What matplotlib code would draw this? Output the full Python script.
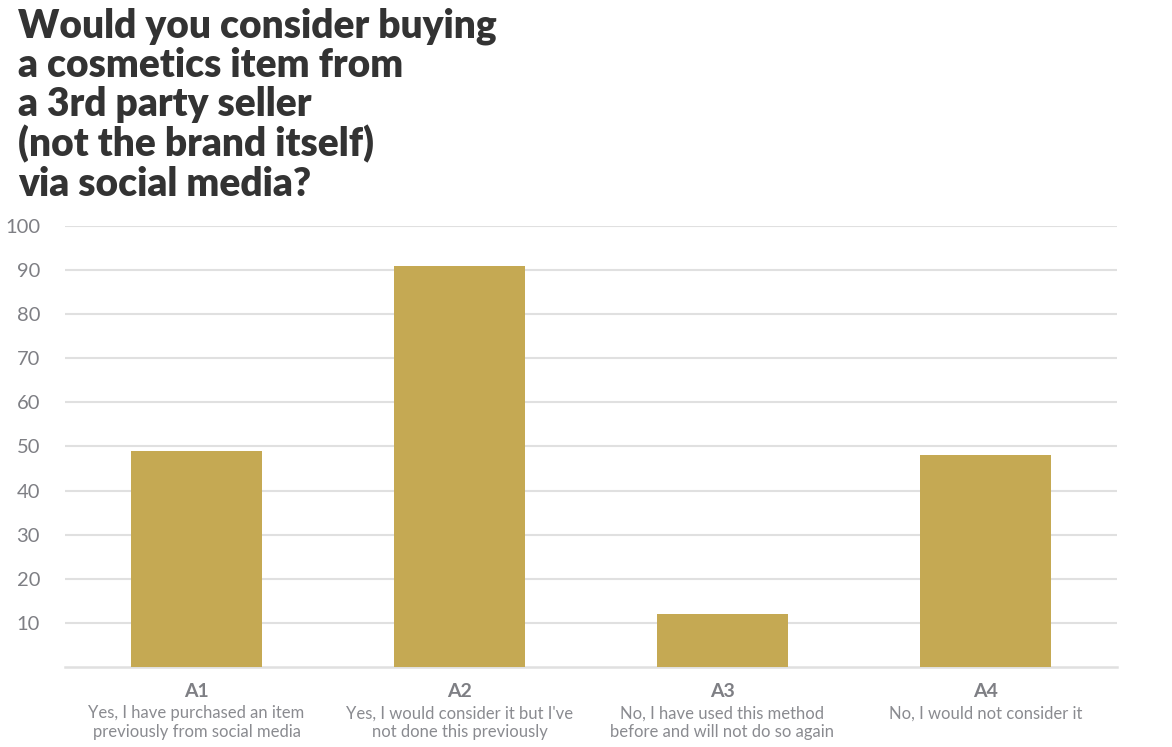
import matplotlib.pyplot as plt
import numpy as np

plt.rcParams['font.family'] = ['Lato', 'DejaVu Sans']

# ======== data ========
codes = ['A1', 'A2', 'A3', 'A4']
answers = ['Yes, I have purchased an item\npreviously from social media',
           "Yes, I would consider it but I've\nnot done this previously",
           'No, I have used this method\nbefore and will not do so again',
           'No, I would not consider it']
values = [49, 91, 12, 48]
yticks = [10, 20, 30, 40, 50, 60, 70, 80, 90, 100]

title = ('Would you consider buying\na cosmetics item from\na 3rd party seller\n'
         '(not the brand itself)\nvia social media?')

bar_color = '#C5A953'
grid_color = '#E0E0E0'
tick_color = '#7E7F84'
title_color = '#333333'

fig = plt.figure(figsize=(11.72, 7.47), dpi=100)
ax = fig.add_axes([0.0555, 0.1071, 0.8975, 0.5904])

x = np.arange(len(codes))
ax.bar(x, values, width=0.5, color=bar_color, zorder=3)

ax.set_xlim(-0.5, 3.5)
ax.set_ylim(0, 100)
ax.set_yticks(yticks)
ax.set_yticklabels([str(t) for t in yticks], fontsize=14.5, color=tick_color)
ax.tick_params(axis='y', length=0, pad=18)
ax.set_xticks([])
ax.grid(axis='y', color=grid_color, linewidth=1.5, zorder=0)
ax.axhline(0, color=grid_color, linewidth=1.8, zorder=1, clip_on=False)
for s in ax.spines.values():
    s.set_visible(False)

# category labels under the bars
for xi, code, ans in zip(x, codes, answers):
    ax.annotate(code, xy=(xi, 0), xycoords=('data', 'axes fraction'),
                xytext=(0, -17.5), textcoords='offset points',
                ha='center', va='center', fontsize=14, fontweight='bold',
                color=tick_color)
    ax.annotate(ans, xy=(xi, 0), xycoords=('data', 'axes fraction'),
                xytext=(0, -27.5), textcoords='offset points',
                ha='center', va='top', fontsize=12, color='#8A8B90',
                linespacing=1.2)

fig.text(0.0155, 0.99, title, ha='left', va='top', fontsize=28,
         fontweight='heavy', color=title_color, linespacing=1.07)

plt.savefig('out.png', dpi=100, facecolor='white')
